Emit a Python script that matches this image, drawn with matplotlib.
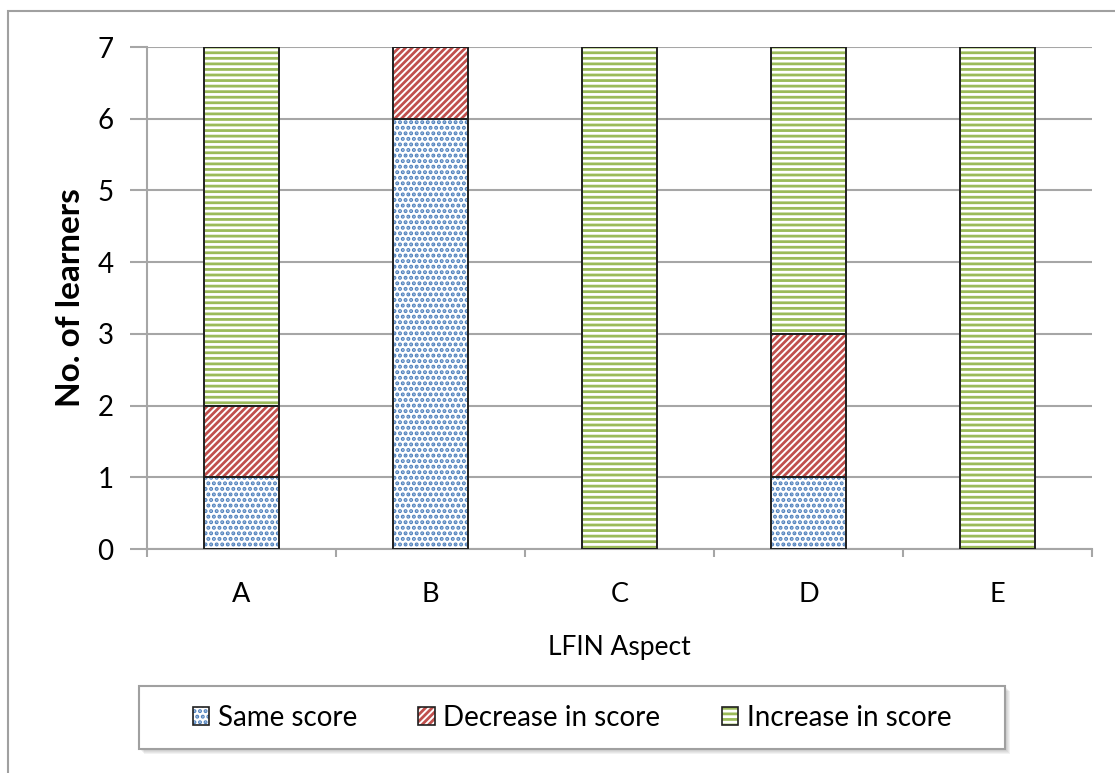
import matplotlib
matplotlib.use("Agg")
import matplotlib.pyplot as plt
from matplotlib.patches import Rectangle, Patch
import numpy as np

plt.rcParams['font.family'] = ['Lato', 'DejaVu Sans']
plt.rcParams['hatch.linewidth'] = 2.0

aspects = ["A", "B", "C", "D", "E"]
same_score = [1, 6, 0, 1, 0]
decrease_score = [1, 1, 0, 2, 0]
increase_score = [5, 0, 7, 4, 7]

series = [
    ("Same score", same_score, "#4F81BD", "..."),
    ("Decrease in score", decrease_score, "#C0504D", "/////"),
    ("Increase in score", increase_score, "#9BBB59", "---"),
]

W, H = 1115, 773
fig = plt.figure(figsize=(W / 100, H / 100), dpi=100)

# outer chart border (cut off on right and bottom)
fig.patches.append(Rectangle((8 / W, -0.1), 1.2, 1 - 11 / H + 0.1, transform=fig.transFigure,
                             fill=False, edgecolor="#A0A0A0", linewidth=1.5))

ax = fig.add_axes([147 / W, 1 - 549 / H, 945 / W, 502 / H])

x = np.arange(len(aspects))
bottom = np.zeros(len(aspects))
width = 0.4
for name, vals, color, hatch in series:
    vals = np.array(vals)
    ax.bar(x, vals, width, bottom=bottom, color="white", edgecolor=color,
           hatch=hatch, linewidth=0, zorder=3)
    ax.bar(x, vals, width, bottom=bottom, color="none", edgecolor="#202020",
           linewidth=1.4, zorder=4)
    bottom += vals

ax.set_xlim(-0.5, len(aspects) - 0.5)
ax.set_ylim(0, 7)
ax.set_yticks(range(8))
ax.yaxis.grid(True, color="#A6A6A6", linewidth=1.5, zorder=0)
ax.set_axisbelow(True)

ax.set_xticks(x)
ax.set_xticklabels(aspects)
ax.set_xticks(np.arange(-0.5, len(aspects)), minor=True)
ax.tick_params(axis="x", which="major", length=0, pad=24, labelsize=19.5)
ax.tick_params(axis="x", which="minor", length=6, color="#A6A6A6", width=1.5)
ax.tick_params(axis="y", length=12, color="#A6A6A6", width=1.5, labelsize=20, pad=12)

for side in ["top", "right"]:
    ax.spines[side].set_visible(False)
for side in ["left", "bottom"]:
    ax.spines[side].set_color("#A6A6A6")
    ax.spines[side].set_linewidth(1.5)

ax.set_xlabel("LFIN Aspect", fontsize=19, labelpad=20)
ax.set_ylabel("No. of learners", fontsize=24, fontweight="bold", labelpad=9)

# legend box with shadow
lx, ly, lw, lh = 139 / W, 1 - 749 / H, 866 / W, 63 / H
for i in range(4):
    off = i + 2
    fig.patches.append(Rectangle((lx + off / W, ly - off / H), lw, lh, transform=fig.transFigure,
                                 facecolor="#808080", edgecolor="none", alpha=0.1, zorder=1))
fig.patches.append(Rectangle((lx, ly), lw, lh, transform=fig.transFigure,
                             facecolor="white", edgecolor="#A0A0A0", linewidth=1.5, zorder=2))

handles = [(Patch(facecolor="white", edgecolor=c, hatch=h, linewidth=0),
            Patch(facecolor="none", edgecolor="#202020", linewidth=1.2))
           for _, _, c, h in series]
leg = fig.legend(handles, [s[0] for s in series], loc="center", ncol=3,
                 bbox_to_anchor=(lx + lw / 2, ly + lh / 2), frameon=False, fontsize=20,
                 handlelength=0.6, handleheight=0.6, handletextpad=0.3, columnspacing=2.2)
leg.set_zorder(5)

fig.savefig("out.png", dpi=100)
